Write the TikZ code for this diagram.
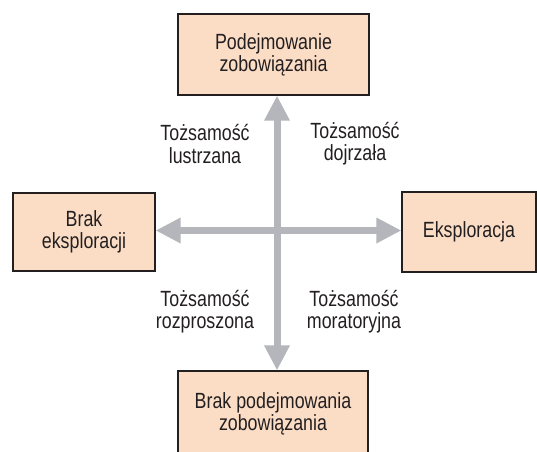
\documentclass[tikz,border=0pt]{standalone}
\usepackage{fontspec}
\setmainfont{Liberation Sans}[FakeStretch=0.81]
\usetikzlibrary{arrows.meta}
\definecolor{peach}{RGB}{251,221,198}
\definecolor{axisgray}{RGB}{180,182,187}
\definecolor{ink}{RGB}{35,31,32}
\tikzset{
  box/.style={
    draw=ink,
    line width=1.2pt,
    fill=peach,
    align=center,
    inner sep=0pt,
    text=ink
  },
  axis/.style={
    draw=axisgray,
    line width=7pt,
    {Triangle[width=24pt,length=25pt]}-{Triangle[width=24pt,length=25pt]}
  },
  quadrant/.style={
    align=center,
    inner sep=0pt,
    text=ink
  }
}

\begin{document}
\begin{tikzpicture}[x=1pt,y=-1pt,every node/.style={font=\fontsize{22}{22}\selectfont}]
\useasboundingbox (0,0) rectangle (537,451);
\clip (0,0) rectangle (537,451);
% the four poles
\node[box,minimum width=191pt,minimum height=81pt] (zob)     at (273.5,54.5) {Podejmowanie\\zobowiązania};
\node[box,minimum width=142pt,minimum height=78pt] (brakeks) at (84,232)     {Brak\\eksploracji};
\node[box,minimum width=134pt,minimum height=80pt] (eks)     at (469,232)    {Eksploracja};
\node[box,minimum width=190pt,minimum height=86pt] (brakzob) at (273,414)    {Brak podejmowania\\zobowiązania};
% axes
\coordinate (srodek) at (277,230.5);
\draw[axis] (zob.south -| srodek) -- (brakzob.north -| srodek);
\draw[axis] (brakeks.east |- srodek) -- (eks.west |- srodek);
% quadrants
\node[quadrant] (lustrzana)   at (205,144) {Tożsamość\\lustrzana};
\node[quadrant] (dojrzala)    at (355,144) {Tożsamość\\dojrzała};
\node[quadrant] (rozproszona) at (205,312) {Tożsamość\\rozproszona};
\node[quadrant] (moratoryjna) at (354,312) {Tożsamość\\moratoryjna};
\end{tikzpicture}
\end{document}
